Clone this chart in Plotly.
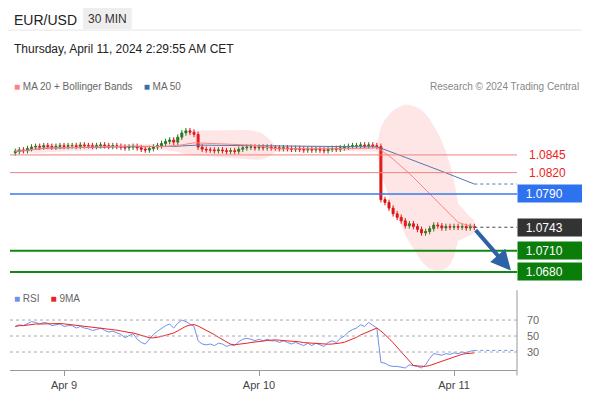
import pandas as pd
import plotly.graph_objects as go

closes = [
    1.0850, 1.0852, 1.0851, 1.0854, 1.0856, 1.0857, 1.0856, 1.0858, 1.0857, 1.0856, 1.0857, 1.0858,
    1.0857, 1.0858, 1.0858, 1.0857, 1.0859, 1.0858, 1.0858, 1.0857, 1.0858, 1.0859, 1.0858, 1.0857,
    1.0858, 1.0857, 1.0856, 1.0855, 1.0856, 1.0857,
    1.0855, 1.0853, 1.0852, 1.0854, 1.0856, 1.0858, 1.0861,
    1.0864, 1.0866, 1.0863, 1.0870, 1.0876, 1.0879, 1.0877, 1.0874, 1.0856,
    1.0853, 1.0852, 1.0852, 1.0851, 1.0852, 1.0851, 1.0850, 1.0851, 1.0850, 1.0853,
    1.0855, 1.0856, 1.0856, 1.0855, 1.0856, 1.0855, 1.0856, 1.0855, 1.0855, 1.0854, 1.0855, 1.0854,
    1.0853, 1.0854, 1.0853, 1.0852, 1.0853, 1.0852, 1.0853, 1.0852, 1.0851, 1.0853, 1.0854, 1.0853,
    1.0855, 1.0856, 1.0857, 1.0858, 1.0858, 1.0859, 1.0858, 1.0859, 1.0858,
    1.0857, 1.0782,
    1.0778, 1.0770, 1.0762, 1.0757, 1.0752, 1.0745, 1.0748, 1.0744, 1.0740, 1.0735, 1.0737,
    1.0741, 1.0746, 1.0745, 1.0742, 1.0744, 1.0743, 1.0744, 1.0743, 1.0744, 1.0742, 1.0744, 1.0743,
]
rsi_vals = [
    62, 64, 63, 66, 68, 67, 65, 67, 66, 63, 64, 65,
    62, 63, 63, 60, 62, 60, 59, 57, 58, 60, 57, 55, 56, 54, 52, 48, 50, 53,
    46, 42, 40, 46, 52, 56, 60,
    63, 65, 60, 66, 70, 68, 65, 62, 44,
    40, 39, 40, 38, 41, 40, 37, 39, 38, 43,
    46, 47, 46, 44, 46, 44, 46, 44, 44, 42, 44, 42, 40, 42, 40, 38, 41, 38, 41, 39, 37, 42, 44, 42,
    47, 50, 55, 58, 60, 64, 62, 67, 64,
    60, 17,
    16, 13, 12, 12, 11, 10, 14, 13, 12, 10, 14,
    22, 28, 27, 26, 28, 27, 29, 28, 30, 29, 31, 32,
]
wick = 0.0004
first_open = 1.0848
levels_red = [1.0845, 1.0820]
level_blue = 1.0790
level_last = 1.0743
levels_green = [1.0710, 1.0680]
rsi_levels = [70, 50, 30]

times = pd.date_range("2024-04-08 18:00", periods=len(closes), freq="30min")
s = pd.Series(closes, index=times)
opens = [first_open] + closes[:-1]
highs = [max(o, c) + wick for o, c in zip(opens, closes)]
lows = [min(o, c) - wick for o, c in zip(opens, closes)]

ma20 = s.rolling(20, min_periods=1).mean()
sd20 = s.rolling(20, min_periods=2).std().bfill()
upper = ma20 + 2 * sd20
lower = ma20 - 2 * sd20
ma50 = s.rolling(50, min_periods=1).mean()

rsi = pd.Series(rsi_vals, index=times)
rsi9 = rsi.rolling(9, min_periods=1).mean()

x0 = pd.Timestamp("2024-04-08 17:21")
x1 = pd.Timestamp("2024-04-11 07:45")
xend = times[-1]

fig = go.Figure()
fig.add_trace(go.Scatter(x=times, y=upper, mode="lines", line=dict(width=0), hoverinfo="skip"))
fig.add_trace(go.Scatter(x=times, y=lower, mode="lines", line=dict(width=0), fill="tonexty",
                         fillcolor="rgba(255,90,90,0.15)", hoverinfo="skip"))
fig.add_trace(go.Scatter(x=times, y=ma50, mode="lines", line=dict(color="#5577aa", width=1)))
fig.add_trace(go.Scatter(x=times, y=ma20, mode="lines", line=dict(color="#ff8080", width=1)))
fig.add_trace(go.Candlestick(x=times, open=opens, high=highs, low=lows, close=closes,
                             increasing=dict(line=dict(color="#1f7a1f", width=1), fillcolor="#1f7a1f"),
                             decreasing=dict(line=dict(color="#dd1111", width=1), fillcolor="#dd1111"),
                             whiskerwidth=0))
fig.add_trace(go.Scatter(x=times, y=rsi, mode="lines", line=dict(color="#6f8ff0", width=1), yaxis="y2"))
fig.add_trace(go.Scatter(x=times, y=rsi9, mode="lines", line=dict(color="#ee2222", width=1), yaxis="y2"))

shapes = []
for lv in levels_red:
    shapes.append(dict(type="line", xref="x", yref="y", x0=x0, x1=x1, y0=lv, y1=lv,
                       line=dict(color="#f08080", width=1)))
shapes.append(dict(type="line", xref="x", yref="y", x0=x0, x1=x1, y0=level_blue, y1=level_blue,
                   line=dict(color="#3a78f0", width=1.5)))
for lv in levels_green:
    shapes.append(dict(type="line", xref="x", yref="y", x0=x0, x1=x1, y0=lv, y1=lv,
                       line=dict(color="#118811", width=2)))
shapes.append(dict(type="line", xref="x", yref="y", x0=xend, x1=x1, y0=level_last, y1=level_last,
                   line=dict(color="#444", width=1, dash="dot")))
shapes.append(dict(type="line", xref="x", yref="y", x0=xend, x1=x1, y0=ma50.iloc[-1], y1=ma50.iloc[-1],
                   line=dict(color="#5577aa", width=1, dash="dot")))
for lv in rsi_levels:
    shapes.append(dict(type="line", xref="x", yref="y2", x0=x0, x1=x1, y0=lv, y1=lv,
                       line=dict(color="#aaa", width=1, dash="dot")))
shapes.append(dict(type="line", xref="x", yref="y2", x0=xend, x1=x1, y0=rsi.iloc[-1], y1=rsi.iloc[-1],
                   line=dict(color="#6f8ff0", width=1, dash="dot")))
shapes.append(dict(type="line", xref="paper", yref="paper", x0=1, x1=1, y0=-0.02, y1=0.29,
                   line=dict(color="#999", width=1)))
shapes.append(dict(type="rect", xref="paper", yref="paper", x0=0.144, x1=0.24, y0=1.24, y1=1.316,
                   fillcolor="#eeeeee", line=dict(width=0)))
shapes.append(dict(type="line", xref="paper", yref="paper", x0=-0.02, x1=1.16, y0=1.236, y1=1.236,
                   line=dict(color="#e6e6e6", width=1)))

ann = []
for lv in levels_red:
    ann.append(dict(x=1.02, xref="paper", y=lv, yref="y", text=f"{lv:.4f}", showarrow=False,
                    xanchor="left", font=dict(color="#ee2222", size=12)))
box_labels = [(level_blue, "#2f72f0"), (level_last, "#333333")] + [(lv, "#0b7d0b") for lv in levels_green]
for lv, col in box_labels:
    ann.append(dict(x=1.0, xref="paper", y=lv, yref="y", text=f"&nbsp;&nbsp;{lv:.4f}", showarrow=False,
                    xanchor="left", bgcolor=col, width=62, align="left", height=15,
                    font=dict(color="white", size=12)))
for lv in rsi_levels:
    ann.append(dict(x=1.015, xref="paper", y=lv, yref="y2", text=str(lv), showarrow=False,
                    xanchor="left", font=dict(color="#666", size=11)))
ann.append(dict(x=pd.Timestamp("2024-04-11 07:00"), y=levels_green[1] + 0.0002, ax=xend, ay=level_last - 0.0002,
                xref="x", yref="y", axref="x", ayref="y", showarrow=True, arrowhead=2, arrowsize=1,
                arrowwidth=4, arrowcolor="#2d62a8", text=""))
ann += [
    dict(x=0.004, y=1.308, xref="paper", yref="paper", text="EUR/USD", showarrow=False, xanchor="left",
         font=dict(size=14, color="#222")),
    dict(x=0.192, y=1.308, xref="paper", yref="paper", text="30 MIN", showarrow=False, xanchor="center",
         font=dict(size=12, color="#333")),
    dict(x=0.004, y=1.2, xref="paper", yref="paper", text="Thursday, April 11, 2024 2:29:55 AM CET",
         showarrow=False, xanchor="left", font=dict(size=12, color="#222")),
    dict(x=0.004, y=1.058, xref="paper", yref="paper", text="<span style='color:#ff8080'>■</span> MA 20 + Bollinger Bands"
         "&nbsp;&nbsp;&nbsp;&nbsp;<span style='color:#3a6ea5'>■</span> MA 50",
         showarrow=False, xanchor="left", font=dict(size=10, color="#666")),
    dict(x=1.126, y=1.058, xref="paper", yref="paper", text="Research © 2024 Trading Central",
         showarrow=False, xanchor="right", font=dict(size=10, color="#888")),
    dict(x=0.004, y=0.233, xref="paper", yref="paper", text="<span style='color:#6f8ff0'>■</span> RSI"
         "&nbsp;&nbsp;&nbsp;&nbsp;<span style='color:#ee2222'>■</span> 9MA",
         showarrow=False, xanchor="left", font=dict(size=10, color="#666")),
]

# the page body adds 8px around the figure, so draw 8px smaller and shifted
fig.update_layout(
    width=582, height=392, margin=dict(l=2, r=73, t=87, b=30, autoexpand=False),
    paper_bgcolor="white", plot_bgcolor="white", showlegend=False,
    font=dict(family="Liberation Sans, Arial, sans-serif"),
    xaxis=dict(range=[x0, x1], rangeslider=dict(visible=False), showgrid=False, anchor="y2",
               tickvals=[pd.Timestamp("2024-04-09"), pd.Timestamp("2024-04-10"), pd.Timestamp("2024-04-11")],
               ticktext=["Apr 9", "Apr 10", "Apr 11"], ticks="outside", ticklen=5, tickcolor="#999",
               showline=True, linecolor="#999", tickfont=dict(size=11, color="#444")),
    yaxis=dict(domain=[0.31, 1], range=[1.06619, 1.09295], visible=False, showgrid=False),
    yaxis2=dict(domain=[0, 0.218], range=[7.5, 82.5], visible=False, showgrid=False),
    shapes=shapes, annotations=ann,
)
fig.write_html("out.html")
